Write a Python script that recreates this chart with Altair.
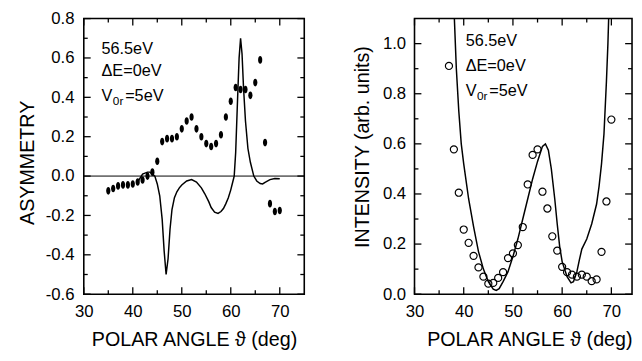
import altair as alt
import pandas as pd

# ---------------- data ----------------
# Left panel: measured asymmetry (filled dots) and theory (line)
asym_angle = list(range(35, 71))
asym_value = [-0.075, -0.063, -0.05, -0.045, -0.045, -0.04, -0.03, -0.02, 0.0, 0.02,
              0.075, 0.175, 0.19, 0.19, 0.2, 0.24, 0.28, 0.30, 0.24, 0.20,
              0.165, 0.15, 0.165, 0.21, 0.30, 0.38, 0.45, 0.44, 0.44, 0.41,
              0.475, 0.59, 0.17, -0.14, -0.18, -0.175]
asym_theory_angle = [41, 42, 43, 43.5, 44, 44.5, 45, 45.5, 46, 46.4, 46.8, 47.2, 47.6, 48,
                     48.5, 49, 49.5, 50, 51, 52, 53, 54, 54.7, 55.5, 56, 56.7, 57.4, 58,
                     58.5, 59, 59.5, 60, 60.4, 60.7, 61, 61.4, 61.7, 62, 62.3, 62.6, 63,
                     63.5, 64, 64.7, 65.3, 66, 66.5, 67, 68, 69, 70]
asym_theory_value = [-0.03, 0.01, 0.02, 0.02, 0.01, 0.0, -0.04, -0.1, -0.22, -0.38, -0.5, -0.42,
                     -0.27, -0.17, -0.11, -0.08, -0.06, -0.045, -0.025, -0.018, -0.03, -0.06,
                     -0.09, -0.13, -0.16, -0.183, -0.19, -0.18, -0.165, -0.14, -0.11, -0.07,
                     -0.03, 0.0, 0.12, 0.4, 0.6, 0.7, 0.62, 0.45, 0.28, 0.14, 0.07, 0.0,
                     -0.025, -0.038, -0.04, -0.032, -0.018, -0.012, -0.014]

# Right panel: measured intensity (open circles) and theory (line)
int_angle = list(range(37, 71))
int_value = [0.911, 0.578, 0.405, 0.258, 0.205, 0.153, 0.107, 0.07, 0.042, 0.045,
             0.065, 0.088, 0.144, 0.163, 0.196, 0.268, 0.438, 0.556, 0.578, 0.409,
             0.342, 0.231, 0.174, 0.109, 0.088, 0.078, 0.07, 0.078, 0.07, 0.052,
             0.059, 0.169, 0.37, 0.697]
int_theory_angle = [37.8, 38.2, 38.5, 39, 39.5, 40, 41, 42, 43, 44, 45, 46, 46.6, 47.2, 48,
                    49, 50, 51, 52, 53, 54, 55, 56, 56.6, 57.2, 57.8, 58.5, 59, 59.5, 60,
                    61, 61.8, 62.3, 63, 63.5, 64, 65, 66, 67, 67.5, 68, 68.5, 69, 69.3, 69.6]
int_theory_value = [1.25, 1.05, 0.9, 0.73, 0.6, 0.52, 0.38, 0.27, 0.17, 0.1, 0.05, 0.02, 0.015,
                    0.022, 0.05, 0.09, 0.15, 0.22, 0.3, 0.38, 0.46, 0.53, 0.59, 0.6, 0.575,
                    0.5, 0.38, 0.28, 0.19, 0.13, 0.07, 0.045, 0.05, 0.09, 0.137, 0.18, 0.22,
                    0.28, 0.36, 0.43, 0.52, 0.64, 0.85, 1.0, 1.2]

# axis ticks
x_major = [30, 40, 50, 60, 70]
x_minor = [35, 45, 55, 65]
asym_y_major = [-0.6, -0.4, -0.2, 0.0, 0.2, 0.4, 0.6, 0.8]
asym_y_minor = [-0.5, -0.3, -0.1, 0.1, 0.3, 0.5, 0.7]
int_y_major = [0.0, 0.2, 0.4, 0.6, 0.8, 1.0]
int_y_minor = [0.1, 0.3, 0.5, 0.7, 0.9]

# annotation text
ann_energy = "56.5eV"
ann_delta = "ΔE=0eV"
ann_v, ann_sub, ann_rest = "V", "0r", "=5eV"

x_title = "POLAR ANGLE ϑ (deg)"

# ---------------- styling ----------------
FONT = "Liberation Sans"
H = 280
W_LEFT = 224
W_RIGHT = 221
MAJ, MIN = 7, 4
TW = 1.3

ELLIPSE = "M0,-1 A0.55,1 0 1,1 0,1 A0.55,1 0 1,1 0,-1 Z"


def x_axis(anchor):
    return alt.Axis(values=x_major, format="d", ticks=False, domain=False, grid=False,
                    labelFontSize=17, labelPadding=10, labelFlush=False, labelOverlap=False,
                    title=x_title, titleFontSize=20, titleFontWeight="normal", titlePadding=10,
                    titleAnchor=anchor)


X_AXIS_L = x_axis("middle")
X_AXIS_R = x_axis("end")
Y_AXIS_L = alt.Axis(values=asym_y_major, ticks=False, domain=False, grid=False,
                    labelExpr="(datum.value < 0 ? '-' : '') + format(abs(datum.value), '.1f')",
                    labelFontSize=17, labelPadding=10, labelFlush=False, labelOverlap=False,
                    title="ASYMMETRY", titleFontSize=20, titleFontWeight="normal", titlePadding=8,
                    titleY=146)
Y_AXIS_R = alt.Axis(values=int_y_major, format=".1f", ticks=False, domain=False, grid=False,
                    labelFontSize=17, labelPadding=9, labelFlush=False, labelOverlap=False,
                    title="INTENSITY (arb. units)", titleFontSize=20, titleFontWeight="normal",
                    titlePadding=10, titleY=130)


def tick_layers(xs, ys, xaxis, yaxis, width, ymaj, ymin):
    layers = []
    for vals, length in ((x_major, MAJ), (x_minor, MIN)):
        df = pd.DataFrame({"v": vals})
        base = alt.Chart(df).mark_rule(color="black", strokeWidth=TW)
        xe = alt.X("v:Q", scale=xs, axis=xaxis)
        layers.append(base.encode(x=xe, y=alt.value(H), y2=alt.value(H - length)))
        layers.append(base.encode(x=xe, y=alt.value(0), y2=alt.value(length)))
    for vals, length in ((ymaj, MAJ), (ymin, MIN)):
        df = pd.DataFrame({"v": vals})
        base = alt.Chart(df).mark_rule(color="black", strokeWidth=TW)
        ye = alt.Y("v:Q", scale=ys, axis=yaxis)
        layers.append(base.encode(y=ye, x=alt.value(0), x2=alt.value(length)))
        layers.append(base.encode(y=ye, x=alt.value(width), x2=alt.value(width - length)))
    return layers


def annotations(x0, y_lines):
    fs = 16.5
    out = []
    for txt, yy in ((ann_energy, y_lines[0]), (ann_delta, y_lines[1]), (ann_v, y_lines[2])):
        out.append(alt.Chart(pd.DataFrame({"t": [txt]})).mark_text(
            align="left", baseline="middle", font=FONT, fontSize=fs, color="black"
        ).encode(text="t:N", x=alt.value(x0), y=alt.value(yy)))
    out.append(alt.Chart(pd.DataFrame({"t": [ann_sub]})).mark_text(
        align="left", baseline="middle", font=FONT, fontSize=12, color="black"
    ).encode(text="t:N", x=alt.value(x0 + 11.5), y=alt.value(y_lines[2] + 5)))
    out.append(alt.Chart(pd.DataFrame({"t": [ann_rest]})).mark_text(
        align="left", baseline="middle", font=FONT, fontSize=fs, color="black"
    ).encode(text="t:N", x=alt.value(x0 + 24), y=alt.value(y_lines[2])))
    return out


# ---------------- left panel ----------------
xs_l = alt.Scale(domain=[30, 75], nice=False, zero=False)
ys_l = alt.Scale(domain=[-0.6, 0.8], nice=False, zero=False)

asym_df = pd.DataFrame({"angle": asym_angle, "asym": asym_value})
asym_th_df = pd.DataFrame({"angle": asym_theory_angle, "asym": asym_theory_value})

left_points = alt.Chart(asym_df).mark_point(
    shape=ELLIPSE, filled=True, color="black", size=60, opacity=1
).encode(
    x=alt.X("angle:Q", scale=xs_l, axis=X_AXIS_L),
    y=alt.Y("asym:Q", scale=ys_l, axis=Y_AXIS_L),
)
left_line = alt.Chart(asym_th_df).mark_line(color="black", strokeWidth=1.5, clip=True).encode(
    x=alt.X("angle:Q", scale=xs_l, axis=X_AXIS_L),
    y=alt.Y("asym:Q", scale=ys_l, axis=Y_AXIS_L),
    order="angle:Q",
)
zero_rule = alt.Chart(pd.DataFrame({"z": [0.0]})).mark_rule(color="black", strokeWidth=1).encode(
    y=alt.Y("z:Q", scale=ys_l, axis=Y_AXIS_L)
)

left = alt.layer(
    left_points, zero_rule, left_line,
    *tick_layers(xs_l, ys_l, X_AXIS_L, Y_AXIS_L, W_LEFT, asym_y_major, asym_y_minor),
    *annotations(18, [30.5, 53.5, 78.5]),
).properties(width=W_LEFT, height=H)

# ---------------- right panel ----------------
xs_r = alt.Scale(domain=[30, 74.2], nice=False, zero=False)
ys_r = alt.Scale(domain=[0, 1.1], nice=False, zero=False)

int_df = pd.DataFrame({"angle": int_angle, "intensity": int_value})
int_th_df = pd.DataFrame({"angle": int_theory_angle, "intensity": int_theory_value})

right_points = alt.Chart(int_df).mark_point(
    shape="circle", filled=False, color="black", size=52, strokeWidth=1.2, opacity=1
).encode(
    x=alt.X("angle:Q", scale=xs_r, axis=X_AXIS_R),
    y=alt.Y("intensity:Q", scale=ys_r, axis=Y_AXIS_R),
)
right_line = alt.Chart(int_th_df).mark_line(color="black", strokeWidth=1.5, clip=True).encode(
    x=alt.X("angle:Q", scale=xs_r, axis=X_AXIS_R),
    y=alt.Y("intensity:Q", scale=ys_r, axis=Y_AXIS_R),
    order="angle:Q",
)

right = alt.layer(
    right_points, right_line,
    *tick_layers(xs_r, ys_r, X_AXIS_R, Y_AXIS_R, W_RIGHT, int_y_major, int_y_minor),
    *annotations(52, [22.5, 48.5, 73.5]),
).properties(width=W_RIGHT, height=H)

chart = alt.hconcat(left, right, spacing=112, bounds="flush").properties(
    padding={"left": 8, "top": -2, "right": 0, "bottom": 0},
    background="white",
).configure_axis(
    labelFont=FONT, titleFont=FONT, labelColor="black", titleColor="black"
).configure_view(
    stroke="black", strokeWidth=1.6
)

chart.save("out.html", embed_options={"renderer": "svg", "actions": False})
